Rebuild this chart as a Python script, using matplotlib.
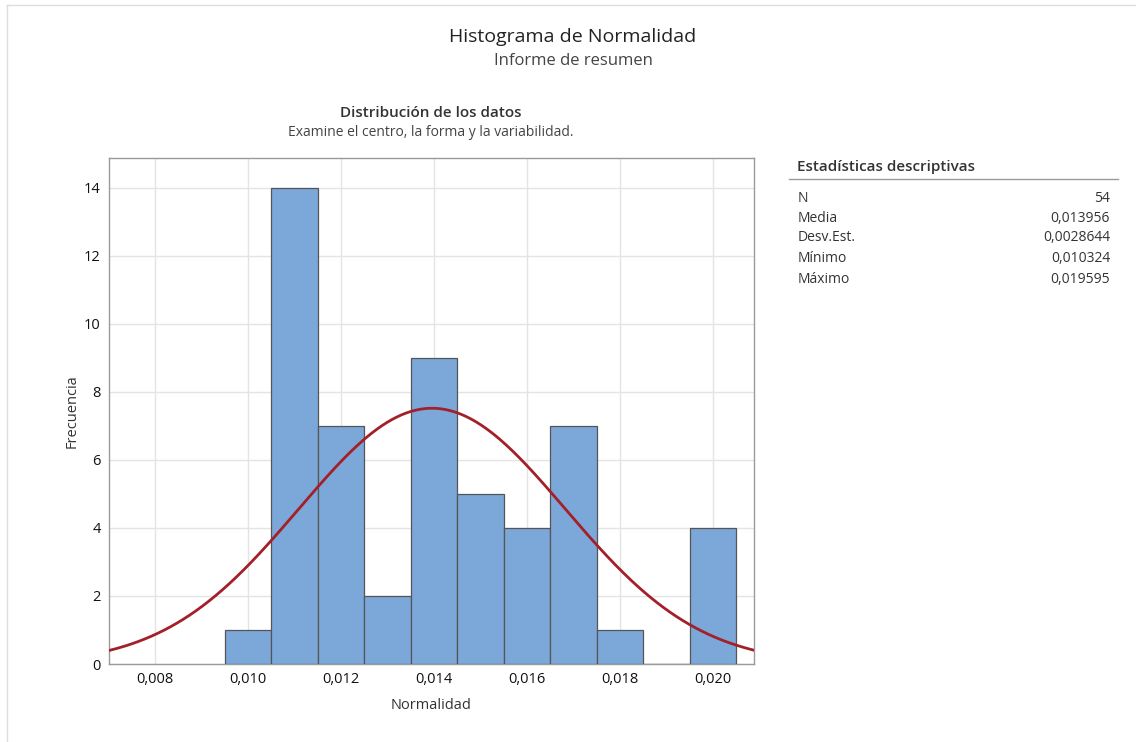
import numpy as np
import matplotlib
matplotlib.use("Agg")
import matplotlib.pyplot as plt
from matplotlib.lines import Line2D

plt.rcParams['font.family'] = ['Open Sans', 'DejaVu Sans']

# Data
bin_centers = [0.010, 0.011, 0.012, 0.013, 0.014, 0.015, 0.016, 0.017, 0.018, 0.019, 0.020]
counts = [1, 14, 7, 2, 9, 5, 4, 7, 1, 0, 4]
bin_width = 0.001
n_obs = 54
mean = 0.013956
std = 0.0028644
stat_labels = ["N", "Media", "Desv.Est.", "Mínimo", "Máximo"]
stat_values = ["54", "0,013956", "0,0028644", "0,010324", "0,019595"]
xticks = [0.008, 0.010, 0.012, 0.014, 0.016, 0.018, 0.020]
xtick_labels = ["0,008", "0,010", "0,012", "0,014", "0,016", "0,018", "0,020"]
yticks = [0, 2, 4, 6, 8, 10, 12, 14]

W, H = 1136, 742
fig = plt.figure(figsize=(W / 100, H / 100), dpi=100)

def fx(px):
    return px / W

def fy(py):
    return 1 - py / H

# axes: left 109, right 754, top 158, bottom 664
ax = fig.add_axes([fx(109), fy(664), (754 - 109) / W, (664 - 158) / H])
ax.bar(bin_centers, counts, width=bin_width, color="#7BA7D9", edgecolor="#555555",
       linewidth=0.9, zorder=3)
xs = np.linspace(0.00701, 0.02088, 400)
ys = n_obs * bin_width * np.exp(-0.5 * ((xs - mean) / std) ** 2) / (std * np.sqrt(2 * np.pi))
ax.plot(xs, ys, color="#A3202A", linewidth=2.0, zorder=4)

ax.set_xlim(0.00701, 0.02088)
ax.set_ylim(0, 14.88)
ax.set_xticks(xticks)
ax.set_xticklabels(xtick_labels)
ax.set_yticks(yticks)
ax.grid(True, color="#E4E4E4", linewidth=1.0, zorder=0)
ax.set_axisbelow(True)
for s in ax.spines.values():
    s.set_color("#9A9A9A")
    s.set_linewidth(1.0)
ax.tick_params(axis='both', length=0, labelsize=10.5, colors="#111111", pad=6)
ax.set_xlabel("Normalidad", fontsize=10.5, color="#333333", labelpad=8)
ax.set_ylabel("Frecuencia", fontsize=10.5, color="#333333", labelpad=3)

# Titles
fig.text(fx(573), fy(37), "Histograma de Normalidad", ha="center", va="center",
         fontsize=14, color="#222222")
fig.text(fx(573), fy(61), "Informe de resumen", ha="center", va="center",
         fontsize=12, color="#444444")
fig.text(fx(431), fy(113), "Distribución de los datos", ha="center", va="center",
         fontsize=11, fontweight="semibold", color="#333333")
fig.text(fx(431), fy(132), "Examine el centro, la forma y la variabilidad.", ha="center",
         va="center", fontsize=10, color="#444444")

# Stats panel
fig.text(fx(797), fy(167), "Estadísticas descriptivas", ha="left", va="center",
         fontsize=11, fontweight="semibold", color="#333333")
fig.add_artist(Line2D([fx(789), fx(1118)], [fy(179), fy(179)], color="#9A9A9A",
                      linewidth=1.0, transform=fig.transFigure))
row_y = [199, 218, 238, 259, 279]
for lab, val, y in zip(stat_labels, stat_values, row_y):
    fig.text(fx(798), fy(y), lab, ha="left", va="center", fontsize=10, color="#333333")
    fig.text(fx(1110), fy(y), val, ha="right", va="center", fontsize=10, color="#333333")

# faint frame lines
fig.add_artist(Line2D([fx(7), fx(1136)], [fy(5), fy(5)], color="#DDDDDD",
                      linewidth=1.0, transform=fig.transFigure))
fig.add_artist(Line2D([fx(7), fx(7)], [fy(5), fy(742)], color="#DDDDDD",
                      linewidth=1.0, transform=fig.transFigure))

fig.savefig("out.png", dpi=100, facecolor="white")
